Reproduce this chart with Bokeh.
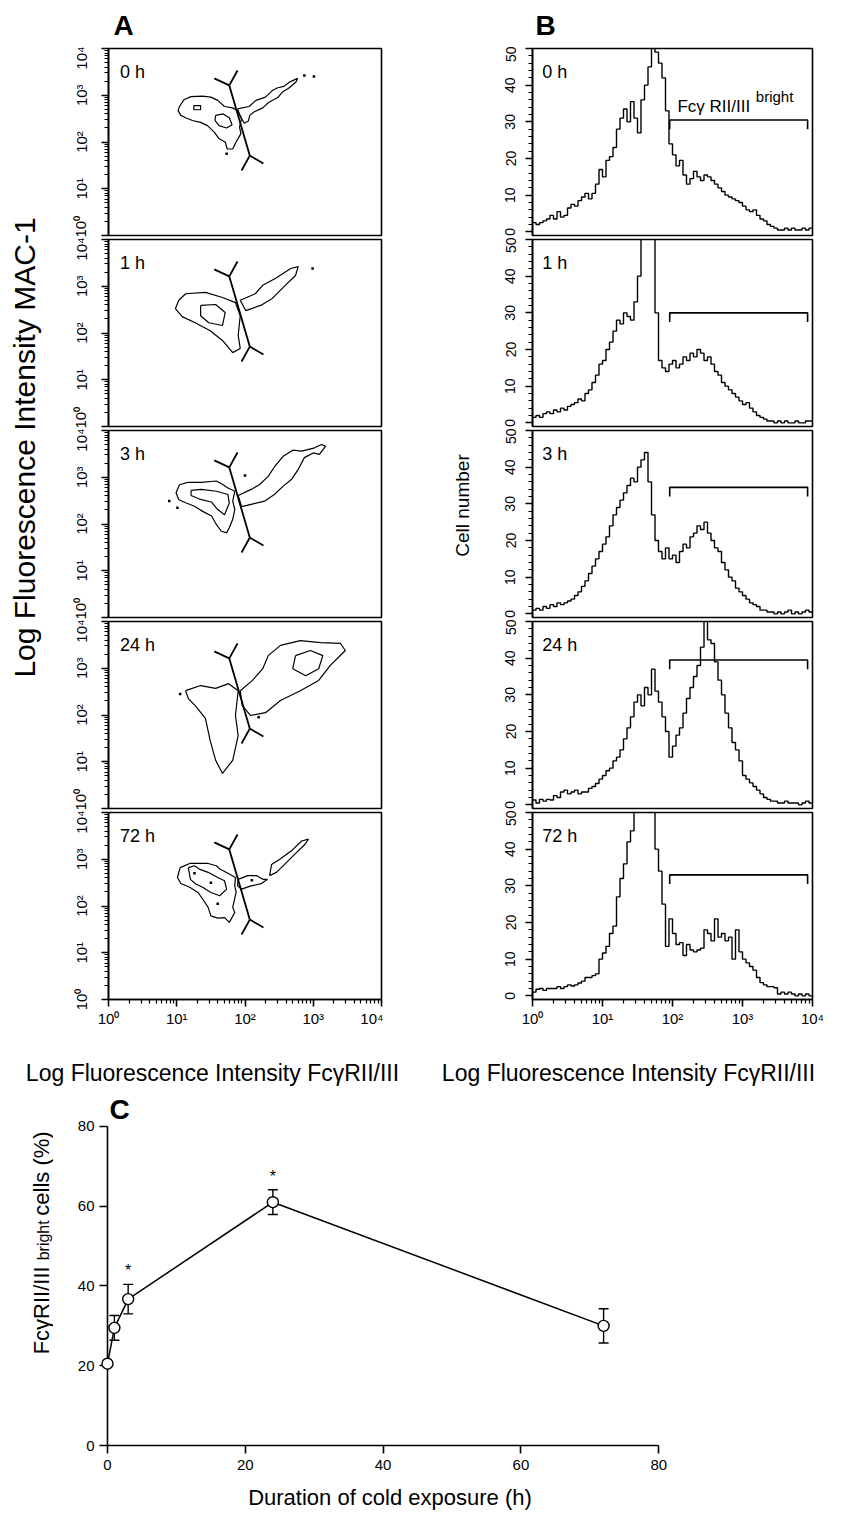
import math

from bokeh.core.properties import value
from bokeh.embed import file_html
from bokeh.layouts import column, row
from bokeh.models import ColumnDataSource, FixedTicker, Range1d, TeeHead, Whisker
from bokeh.plotting import figure
from bokeh.resources import INLINE

FONT = "Liberation Sans"

PANEL_TIMES = ["0 h", "1 h", "3 h", "24 h", "72 h"]

# ---------------------------------------------------------------------------
# B: FcyRII/III histograms, counts per 0.05-decade channel group (10^0..10^4)
# ---------------------------------------------------------------------------
BIN_WIDTH = 0.05

HIST_0H = [
    2.5, 2, 2.5, 3, 3.5, 4.5, 3.5, 5.5, 4, 4.5,
    6.5, 7.5, 7, 8.5, 9.5, 10.5, 9, 10.5, 13, 17,
    15, 19.5, 20.5, 23, 28, 31, 33.5, 30, 35.5, 31,
    27, 36, 40, 45, 52, 49, 46, 42, 33, 24,
    21, 18, 19.5, 15.5, 13, 14.5, 16.5, 15, 14, 15.5,
    15, 14, 13, 12, 11, 10, 9.5, 9, 8.5, 8,
    7, 6, 5.5, 6, 4.5, 3.5, 3, 2, 1.5, 1,
    0.5, 0.5, 1, 0.5, 1, 0.5, 0.5, 1, 0.5, 1,
]
HIST_1H = [
    1.5, 2, 1.5, 2.5, 3, 2.5, 3.5, 3, 4, 3.5,
    4.5, 5, 5.5, 6.5, 6, 8, 9, 11, 13, 16,
    17, 20, 22, 25, 28, 27, 30, 29, 28, 33,
    40, 56, 58, 56, 54, 30, 17, 15, 14, 16,
    17, 15, 16, 18, 17, 19, 18, 20, 19, 17,
    18, 16, 14, 13, 11, 10, 9, 8, 7, 6,
    5, 5.5, 4, 3, 2, 1.5, 1, 0.5, 0.5, 0,
    0.5, 0, 0.5, 0, 0, 0.5, 0, 0, 0.5, 0.5,
]
HIST_3H = [
    1, 1.5, 1, 2, 1.5, 2.5, 2, 3, 2.5, 3,
    3.5, 4, 5, 6, 7.5, 9, 11, 13, 15, 17,
    19, 21, 24, 27, 29, 31, 33, 35, 37, 36,
    40, 42, 44, 36, 27, 20, 17, 15, 18, 15,
    16, 14, 17, 19, 18, 21, 22, 24, 23, 25,
    22, 20, 18, 17, 14, 12, 10, 9, 7, 6,
    5, 4, 3, 2.5, 2, 1, 1, 0.5, 0.5, 0,
    0.5, 0, 0.5, 1, 0, 0.5, 0, 0.5, 1, 0.5,
]
HIST_24H = [
    1.3, 0.5, 1.5, 1, 1.5, 1.3, 2.5, 2, 3.5, 4,
    3, 3.5, 4, 3, 3.5, 3.5, 4.5, 5, 5.8, 7,
    8, 9.3, 10, 12, 13, 15, 18, 21, 24, 28,
    30, 27, 32, 30, 37, 31, 28, 24, 20, 13,
    16, 19, 21, 25, 29, 32, 35, 38, 43, 51,
    45, 44, 39, 34, 30, 25, 21, 17, 15, 12,
    8, 7, 6, 5, 4, 3, 2, 1.5, 1, 1,
    0.5, 0.5, 1, 0.5, 0.5, 0.5, 0, 0.5, 1, 0.5,
]
HIST_72H = [
    1, 1.8, 2, 1.5, 2, 2, 2, 2.5, 2, 2.5,
    3, 2.7, 3, 3.5, 4, 5, 5, 5.5, 6, 10,
    11.7, 13.5, 17, 19, 27, 32, 36, 42, 45, 58,
    62, 65, 60, 62, 58, 40, 34, 25, 13.5, 21,
    17, 14, 14.5, 11, 14, 12.5, 12, 12.5, 13, 18,
    17, 15, 21, 16, 17, 15, 16, 10, 18, 12,
    10, 9, 8, 7, 5, 3.6, 3, 2.5, 2.5, 2.2,
    0.5, 1, 0.5, 1, 0.5, 0, 0.5, 0, 0.5, 0,
]
HISTOGRAMS = [HIST_0H, HIST_1H, HIST_3H, HIST_24H, HIST_72H]

# FcyRII/III-bright marker region (decades) and the height it is drawn at
BRIGHT_GATE = [1.96, 3.93]
BRIGHT_GATE_LEVEL = [30.5, 30.0, 34.5, 39.5, 33.0]

# ---------------------------------------------------------------------------
# A: MAC-1 vs FcyRII/III contour outlines, (log10 FcyRII/III, log10 MAC-1)
# ---------------------------------------------------------------------------
CONTOURS_0H = [
    [(1.04, 2.76), (1.11, 2.91), (1.21, 2.97), (1.38, 2.98), (1.50, 2.96), (1.60, 2.89),
     (1.70, 2.76), (1.82, 2.73), (1.89, 2.67), (1.95, 2.50), (1.92, 2.32), (1.94, 2.18),
     (1.87, 2.00), (1.82, 1.85), (1.74, 1.85), (1.71, 2.00), (1.62, 2.07), (1.55, 2.21),
     (1.45, 2.35), (1.35, 2.42), (1.23, 2.46), (1.13, 2.52), (1.06, 2.57), (1.02, 2.67)],
    [(1.89, 2.71), (2.06, 2.76), (2.16, 2.89), (2.30, 2.96), (2.40, 3.10), (2.48, 3.16),
     (2.57, 3.19), (2.65, 3.28), (2.77, 3.36), (2.75, 3.29), (2.65, 3.16), (2.55, 3.07),
     (2.48, 2.95), (2.35, 2.85), (2.26, 2.73), (2.13, 2.64), (2.07, 2.57), (2.05, 2.45),
     (1.99, 2.40), (1.93, 2.55)],
    [(1.57, 2.57), (1.68, 2.60), (1.77, 2.52), (1.81, 2.37), (1.73, 2.30), (1.62, 2.35),
     (1.56, 2.46)],
    [(1.25, 2.69), (1.35, 2.69), (1.35, 2.78), (1.25, 2.78)],
]
EVENTS_0H = [(2.87, 3.42), (3.01, 3.40), (1.73, 1.75)]

CONTOURS_1H = [
    [(1.03, 2.70), (1.13, 2.84), (1.42, 2.87), (1.67, 2.76), (1.86, 2.65), (1.93, 2.37),
     (1.90, 1.95), (1.93, 1.67), (1.82, 1.58), (1.67, 1.84), (1.49, 2.05), (1.27, 2.22),
     (1.08, 2.35), (0.98, 2.52)],
    [(1.35, 2.59), (1.57, 2.61), (1.71, 2.44), (1.67, 2.16), (1.47, 2.22), (1.35, 2.37)],
    [(1.93, 2.70), (2.15, 2.84), (2.26, 3.02), (2.45, 3.17), (2.67, 3.38), (2.78, 3.42),
     (2.74, 3.23), (2.59, 3.02), (2.40, 2.74), (2.23, 2.59), (2.01, 2.48)],
]
EVENTS_1H = [(2.99, 3.38)]

CONTOURS_3H = [
    [(1.04, 2.84), (1.16, 2.89), (1.36, 2.89), (1.58, 2.92), (1.68, 2.84), (1.75, 2.77),
     (1.85, 2.70), (1.82, 2.49), (1.85, 2.31), (1.82, 2.10), (1.77, 1.92), (1.73, 1.81),
     (1.65, 1.85), (1.58, 1.99), (1.51, 2.17), (1.38, 2.27), (1.26, 2.38), (1.14, 2.45),
     (1.03, 2.52), (0.99, 2.67)],
    [(1.21, 2.72), (1.36, 2.74), (1.58, 2.70), (1.75, 2.63), (1.77, 2.45), (1.70, 2.20),
     (1.60, 2.31), (1.51, 2.47), (1.36, 2.52), (1.21, 2.61)],
    [(1.90, 2.61), (2.09, 2.74), (2.21, 2.84), (2.34, 3.02), (2.44, 3.24), (2.56, 3.45),
     (2.70, 3.58), (2.83, 3.56), (3.02, 3.63), (3.12, 3.70), (3.18, 3.66), (3.09, 3.49),
     (3.00, 3.52), (2.87, 3.42), (2.78, 3.17), (2.68, 2.95), (2.56, 2.81), (2.43, 2.63),
     (2.29, 2.49), (2.09, 2.42), (1.95, 2.37)],
]
EVENTS_3H = [(0.89, 2.49), (1.01, 2.35), (2.00, 3.04)]

CONTOURS_24H = [
    [(1.13, 2.52), (1.35, 2.63), (1.57, 2.57), (1.76, 2.67), (1.90, 2.52), (1.86, 1.99),
     (1.90, 1.56), (1.82, 1.03), (1.67, 0.75), (1.57, 1.03), (1.49, 1.45), (1.42, 1.93),
     (1.27, 2.20), (1.17, 2.35)],
    [(1.93, 2.52), (2.11, 2.74), (2.26, 2.99), (2.34, 3.27), (2.52, 3.49), (2.81, 3.59),
     (3.11, 3.55), (3.40, 3.53), (3.47, 3.38), (3.25, 3.06), (3.08, 2.74), (2.81, 2.52),
     (2.52, 2.31), (2.30, 2.05), (2.08, 1.99), (1.96, 2.20)],
    [(2.74, 3.27), (2.96, 3.38), (3.14, 3.27), (3.08, 2.99), (2.89, 2.84), (2.70, 2.99)],
]
EVENTS_24H = [(1.05, 2.45), (2.20, 1.95)]

CONTOURS_72H = [
    [(1.05, 2.82), (1.19, 2.91), (1.46, 2.91), (1.58, 2.86), (1.63, 2.79), (1.75, 2.70),
     (1.86, 2.61), (1.85, 2.43), (1.87, 2.29), (1.82, 1.97), (1.85, 1.86), (1.77, 1.65),
     (1.70, 1.75), (1.60, 1.74), (1.50, 1.79), (1.46, 1.97), (1.38, 2.15), (1.31, 2.29),
     (1.19, 2.40), (1.06, 2.48), (1.01, 2.61)],
    [(1.17, 2.82), (1.26, 2.86), (1.33, 2.79), (1.46, 2.72), (1.60, 2.61), (1.70, 2.54),
     (1.73, 2.36), (1.63, 2.22), (1.50, 2.29), (1.38, 2.40), (1.28, 2.47), (1.20, 2.57)],
    [(1.90, 2.57), (2.04, 2.65), (2.17, 2.65), (2.26, 2.57), (2.33, 2.57), (2.24, 2.48),
     (2.09, 2.43), (1.95, 2.36), (1.89, 2.43)],
    [(2.36, 2.65), (2.39, 2.89), (2.51, 3.00), (2.68, 3.18), (2.83, 3.39), (2.93, 3.43),
     (2.88, 3.32), (2.73, 3.11), (2.58, 2.89), (2.46, 2.72)],
]
EVENTS_72H = [(1.26, 2.70), (1.50, 2.50), (1.60, 2.05), (2.10, 2.55)]

CONTOURS = [CONTOURS_0H, CONTOURS_1H, CONTOURS_3H, CONTOURS_24H, CONTOURS_72H]
EVENTS = [EVENTS_0H, EVENTS_1H, EVENTS_3H, EVENTS_24H, EVENTS_72H]

# Separator drawn in every dot plot (decades)
GATE_SEGMENTS = [
    ((1.77, 3.21), (2.07, 1.71)),
    ((1.77, 3.21), (1.55, 3.36)),
    ((1.77, 3.21), (1.89, 3.53)),
    ((2.07, 1.71), (2.27, 1.54)),
    ((2.07, 1.71), (1.95, 1.39)),
]

# ---------------------------------------------------------------------------
# C: FcyRII/III-bright cells over cold exposure
# ---------------------------------------------------------------------------
HOURS = [0, 1, 3, 24, 72]
BRIGHT_PCT = [20.5, 29.5, 36.7, 61.0, 30.0]
BRIGHT_SEM = [0.0, 3.1, 3.7, 3.1, 4.3]
SIGNIFICANT = [False, False, True, True, False]

DECADE_LABELS = {0: "10\u2070", 1: "10\u00b9", 2: "10\u00b2", 3: "10\u00b3", 4: "10\u2074"}
LOG_MAJOR = [0, 1, 2, 3, 4]
LOG_MINOR = [d + math.log10(k) for d in range(4) for k in range(2, 10)]


def style_axis(ax, size):
    ax.axis_line_color = "black"
    ax.axis_line_width = 1.6
    ax.major_tick_line_color = "black"
    ax.major_tick_line_width = 1.6
    ax.minor_tick_line_color = "black"
    ax.minor_tick_line_width = 1.2
    ax.major_tick_in = 0
    ax.minor_tick_in = 0
    ax.major_tick_out = 7
    ax.minor_tick_out = 4
    ax.major_label_text_font = FONT
    ax.major_label_text_font_size = size
    ax.major_label_text_color = "black"


def strip(w, h):
    p = figure(width=w, height=h, x_range=Range1d(0, w), y_range=Range1d(0, h),
               min_border=0, x_axis_location=None, y_axis_location=None,
               toolbar_location=None, output_backend="svg")
    p.grid.visible = False
    p.outline_line_color = None
    p.background_fill_color = "white"
    p.border_fill_color = "white"
    return p


def put_text(p, x, y, txt, size, align="center", angle=0.0, style="normal"):
    return p.text(x=[x], y=[y], text=[txt], angle=angle,
                  text_font=value(FONT), text_font_size=value(size),
                  text_font_style=value(style), text_color="black",
                  text_align=value(align), text_baseline=value("middle"))


def log_panel(frame_w, left, right, bottom, show_x, y_range):
    p = figure(frame_width=frame_w, frame_height=187,
               x_range=Range1d(0, 4), y_range=Range1d(*y_range),
               min_border_left=left, min_border_right=right,
               min_border_top=2, min_border_bottom=bottom,
               x_axis_location="below" if show_x else None, y_axis_location="left",
               toolbar_location=None, output_backend="svg")
    p.grid.visible = False
    p.outline_line_color = "black"
    p.outline_line_width = 1.6
    p.background_fill_color = "white"
    p.border_fill_color = "white"
    if show_x:
        ax = p.xaxis[0]
        ax.ticker = FixedTicker(ticks=LOG_MAJOR, minor_ticks=LOG_MINOR)
        ax.major_label_overrides = DECADE_LABELS
        style_axis(ax, "15px")
        ax.major_label_standoff = 3
    return p


n_panels = len(PANEL_TIMES)

# ---- A: dot plots ----------------------------------------------------------
panels_a = []
for i, label in enumerate(PANEL_TIMES):
    last = i == n_panels - 1
    p = log_panel(273, 48, 2, 36 if last else 2, last, (0, 4))
    ay = p.yaxis[0]
    ay.ticker = FixedTicker(ticks=LOG_MAJOR, minor_ticks=LOG_MINOR)
    ay.major_label_overrides = DECADE_LABELS
    ay.major_label_orientation = "vertical"
    style_axis(ay, "15px")
    ay.major_label_standoff = 12

    rings = CONTOURS[i]
    p.multi_line(xs=[[pt[0] for pt in r] + [r[0][0]] for r in rings],
                 ys=[[pt[1] for pt in r] + [r[0][1]] for r in rings],
                 line_color="black", line_width=1.2)
    ev = EVENTS[i]
    p.scatter(x=[e[0] for e in ev], y=[e[1] for e in ev], marker="square",
              size=2.5, fill_color="black", line_color=None)
    p.segment(x0=[s[0][0] for s in GATE_SEGMENTS], y0=[s[0][1] for s in GATE_SEGMENTS],
              x1=[s[1][0] for s in GATE_SEGMENTS], y1=[s[1][1] for s in GATE_SEGMENTS],
              line_color="black", line_width=1.8)
    put_text(p, 0.17, 3.50, label, "18px", align="left")
    panels_a.append(p)

# ---- B: histograms ---------------------------------------------------------
panels_b = []
for i, label in enumerate(PANEL_TIMES):
    last = i == n_panels - 1
    p = log_panel(280, 48, 46, 36 if last else 2, last, (-1, 50))
    by = p.yaxis[0]
    by.ticker = FixedTicker(ticks=[0, 10, 20, 30, 40, 50], minor_ticks=list(range(0, 51, 2)))
    by.major_label_orientation = "vertical"
    style_axis(by, "14px")
    by.major_label_standoff = 10

    counts = HISTOGRAMS[i]
    edges = [k * BIN_WIDTH for k in range(len(counts) + 1)]
    p.step(x=edges, y=counts + [counts[-1]], mode="after", line_color="black", line_width=1.4)

    lo, hi = BRIGHT_GATE
    lvl = BRIGHT_GATE_LEVEL[i]
    p.line(x=[lo, lo, hi, hi], y=[lvl - 2.5, lvl, lvl, lvl - 2.5],
           line_color="black", line_width=1.6)
    put_text(p, 0.14, 43.5, label, "18px", align="left")
    if i == 0:
        put_text(p, 2.07, lvl + 3.6, "Fc\u03b3 RII/III", "17px", align="left")
        put_text(p, 3.19, lvl + 6.4, "bright", "15px", align="left")
    panels_b.append(p)

# ---- side and caption strips ----------------------------------------------
top_strip = strip(858, 46)
put_text(top_strip, 113, 21, "A", "28px", align="left", style="bold")
put_text(top_strip, 535, 21, "B", "28px", align="left", style="bold")

strip_a = strip(60, 989)
put_text(strip_a, 24, 588, "Log Fluorescence Intensity MAC-1", "30px", angle=math.pi / 2)

strip_b = strip(101, 989)
put_text(strip_b, 79, 530, "Cell number", "19px", angle=math.pi / 2)

caption = strip(858, 55)
put_text(caption, 212, 18, "Log Fluorescence Intensity Fc\u03b3RII/III", "23px")
put_text(caption, 628, 18, "Log Fluorescence Intensity Fc\u03b3RII/III", "23px")

strip_c = strip(53, 436)
put_text(strip_c, 41, 166, "Fc\u03b3RII/III", "22px", angle=math.pi / 2)
put_text(strip_c, 43, 252, "bright", "16px", angle=math.pi / 2)
put_text(strip_c, 41, 334, "cells (%)", "22px", angle=math.pi / 2)

# ---- C: time course ----------------------------------------------------------
pc = figure(frame_width=565, frame_height=355, x_range=Range1d(0, 82), y_range=Range1d(0, 89),
            min_border_left=54, min_border_right=186, min_border_top=0, min_border_bottom=81,
            toolbar_location=None, output_backend="svg")
pc.grid.visible = False
pc.outline_line_color = None
pc.background_fill_color = "white"
pc.border_fill_color = "white"

cx = pc.xaxis[0]
cx.ticker = FixedTicker(ticks=[0, 20, 40, 60, 80], minor_ticks=[])
cx.bounds = (0, 80)
style_axis(cx, "15px")
cx.major_tick_out = 8
cx.major_label_standoff = 6
cx.axis_label = "Duration of cold exposure (h)"
cx.axis_label_text_font = FONT
cx.axis_label_text_font_size = "22px"
cx.axis_label_text_font_style = "normal"
cx.axis_label_text_color = "black"
cx.axis_label_standoff = 12

cy = pc.yaxis[0]
cy.ticker = FixedTicker(ticks=[0, 20, 40, 60, 80], minor_ticks=[])
cy.bounds = (0, 80)
style_axis(cy, "15px")
cy.major_tick_out = 8
cy.major_label_standoff = 5

err_idx = [k for k, s in enumerate(BRIGHT_SEM) if s > 0]
err_src = ColumnDataSource(data=dict(
    base=[HOURS[k] for k in err_idx],
    upper=[BRIGHT_PCT[k] + BRIGHT_SEM[k] for k in err_idx],
    lower=[BRIGHT_PCT[k] - BRIGHT_SEM[k] for k in err_idx],
))
pc.add_layout(Whisker(source=err_src, base="base", upper="upper", lower="lower",
                      dimension="height", line_color="black", line_width=1.4,
                      upper_head=TeeHead(size=10, line_width=1.4, line_color="black"),
                      lower_head=TeeHead(size=10, line_width=1.4, line_color="black")))

pc.line(x=HOURS, y=BRIGHT_PCT, line_color="black", line_width=1.5)
markers = pc.scatter(x=HOURS, y=BRIGHT_PCT, marker="circle", size=11,
                     fill_color="white", line_color="black", line_width=1.4)
markers.level = "overlay"

star_x = [HOURS[k] for k in range(len(HOURS)) if SIGNIFICANT[k]]
star_y = [BRIGHT_PCT[k] + BRIGHT_SEM[k] + 3.4 for k in range(len(HOURS)) if SIGNIFICANT[k]]
pc.text(x=star_x, y=star_y, text=["*"] * len(star_x), text_font=value(FONT),
        text_font_size=value("16px"), text_align=value("center"), text_baseline=value("middle"),
        text_color="black")

panel_c_letter = put_text(pc, 0.3, 84.3, "C", "28px", align="left", style="bold")
panel_c_letter.level = "overlay"

layout = column(
    top_strip,
    row(strip_a, column(*panels_a), strip_b, column(*panels_b)),
    caption,
    row(strip_c, pc),
)

with open("out.html", "w") as f:
    f.write(file_html(layout, INLINE))
